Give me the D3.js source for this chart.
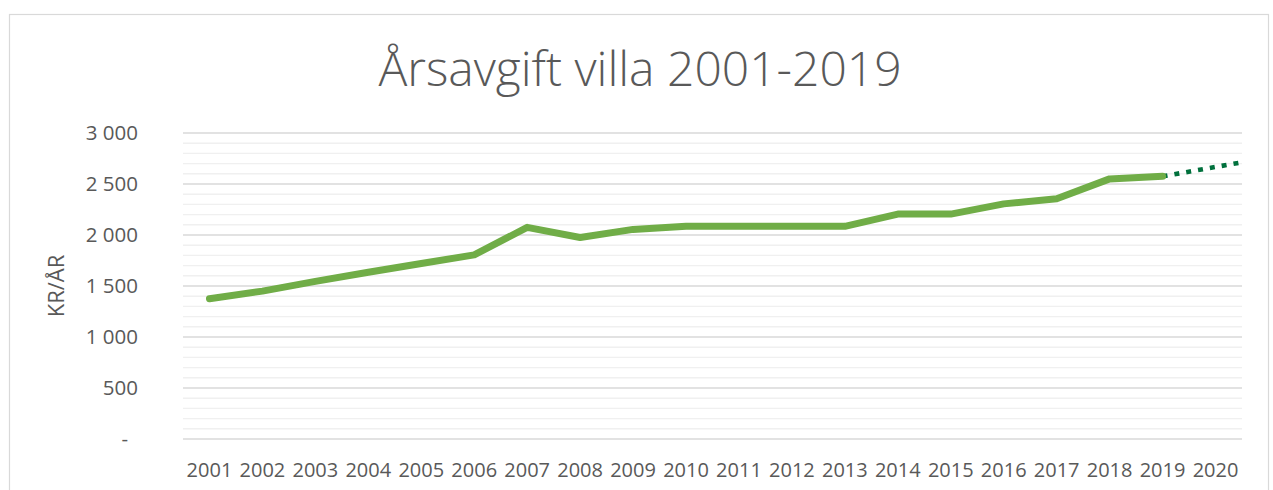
<!DOCTYPE html>
<html>
<head>
<meta charset="utf-8">
<script src="https://cdn.jsdelivr.net/npm/d3@7"></script>
<style>
  body { margin: 0; background: #fff; }
  svg { display: block; font-family: "Open Sans", sans-serif; }
</style>
</head>
<body>
<svg id="chart" width="1273" height="490"></svg>
<script>
// --- data ---
const years = [2001, 2002, 2003, 2004, 2005, 2006, 2007, 2008, 2009, 2010,
               2011, 2012, 2013, 2014, 2015, 2016, 2017, 2018, 2019];
const fees = [1375, 1450, 1545, 1635, 1720, 1805, 2075, 1975, 2055, 2085,
              2085, 2085, 2085, 2205, 2205, 2305, 2355, 2550, 2575];
// dotted forecast, from 2019 out to the right edge of the plot
const forecastYears = [2019, 2020.5];
const forecastFees = [2575, 2713];
const categoryLabels = ['2001', '2002', '2003', '2004', '2005', '2006', '2007', '2008', '2009', '2010',
                        '2011', '2012', '2013', '2014', '2015', '2016', '2017', '2018', '2019', '2020'];
const majorTicks = [0, 500, 1000, 1500, 2000, 2500, 3000];

const svg = d3.select('#chart');
const plot = { left: 183, right: 1242, top: 133, bottom: 439 };

// chart border
svg.append('rect')
    .attr('x', 9.5).attr('y', 14.5)
    .attr('width', 1259).attr('height', 500)
    .attr('fill', '#fff')
    .attr('stroke', '#d9d9d9')
    .attr('stroke-width', 1.2);

const x = d3.scaleLinear()
    .domain([2000.5, 2020.5])
    .range([plot.left, plot.right]);

const y = d3.scaleLinear()
    .domain([0, 3000])
    .range([plot.bottom, plot.top]);

// minor then major gridlines
svg.append('g')
    .selectAll('line')
    .data(d3.range(0, 3001, 100).filter(v => v % 500 !== 0))
    .join('line')
    .attr('x1', plot.left).attr('x2', plot.right)
    .attr('y1', d => y(d)).attr('y2', d => y(d))
    .attr('stroke', '#f0f0f0')
    .attr('stroke-width', 1.4);

svg.append('g')
    .selectAll('line')
    .data(majorTicks)
    .join('line')
    .attr('x1', plot.left).attr('x2', plot.right)
    .attr('y1', d => y(d)).attr('y2', d => y(d))
    .attr('stroke', '#d9d9d9')
    .attr('stroke-width', 1.4);

// y tick labels (Swedish thousands separator, "-" for zero)
const fmt = d3.formatLocale({ decimal: ',', thousands: '\u00a0', grouping: [3], currency: ['', ' kr'] }).format(',d');
svg.append('g')
    .selectAll('text')
    .data(majorTicks)
    .join('text')
    .attr('x', d => d === 0 ? 128 : 138)
    .attr('y', d => y(d))
    .attr('dy', '0.35em')
    .attr('text-anchor', 'end')
    .attr('fill', '#595959')
    .style('font-size', '20.5px')
    .text(d => d === 0 ? '-' : fmt(d));

// x category labels
svg.append('g')
    .selectAll('text')
    .data(categoryLabels)
    .join('text')
    .attr('x', d => x(+d))
    .attr('y', 477)
    .attr('text-anchor', 'middle')
    .attr('fill', '#595959')
    .style('font-size', '20px')
    .text(d => d);

// axis title
svg.append('text')
    .attr('transform', `translate(64,${(plot.top + plot.bottom) / 2}) rotate(-90)`)
    .attr('text-anchor', 'middle')
    .attr('fill', '#595959')
    .style('font-size', '22px')
    .text('KR/ÅR');

// chart title
svg.append('text')
    .attr('x', 640)
    .attr('y', 86)
    .attr('text-anchor', 'middle')
    .attr('fill', '#595959')
    .style('font-size', '48px')
    .style('font-weight', 300)
    .text('Årsavgift villa 2001-2019');

// forecast, dotted
const forecastLine = d3.line()
    .x((d, i) => x(forecastYears[i]))
    .y(d => y(d));

svg.append('path')
    .datum(forecastFees)
    .attr('d', forecastLine)
    .attr('fill', 'none')
    .attr('stroke', '#00703c')
    .attr('stroke-width', 4.6)
    .attr('stroke-dasharray', '5,7');

// main series
const line = d3.line()
    .x((d, i) => x(years[i]))
    .y(d => y(d));

svg.append('path')
    .datum(fees)
    .attr('d', line)
    .attr('fill', 'none')
    .attr('stroke', '#70ad47')
    .attr('stroke-width', 7)
    .attr('stroke-linecap', 'round')
    .attr('stroke-linejoin', 'round');
</script>
</body>
</html>
